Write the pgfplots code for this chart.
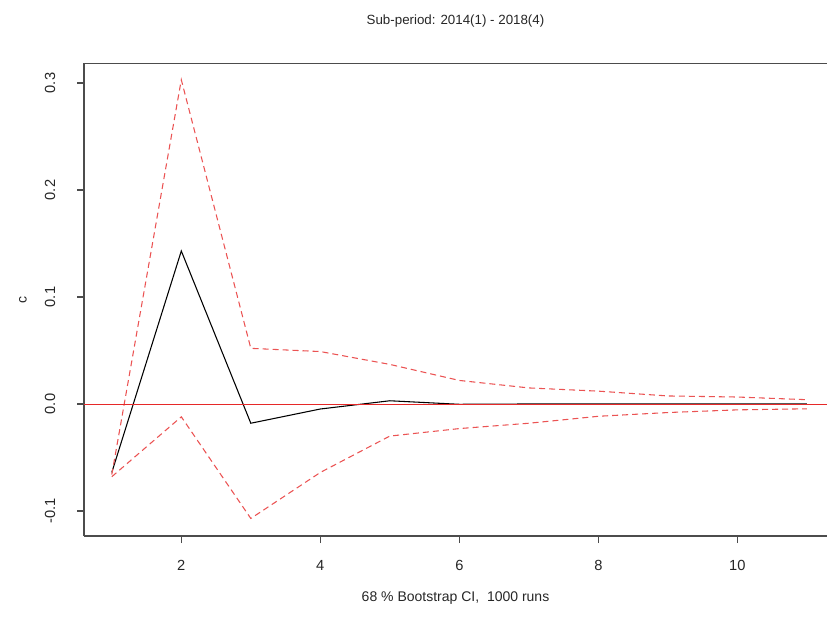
\documentclass[border=0pt]{standalone}
\usepackage{pgfplots}
\pgfplotsset{compat=1.18}
\usepackage{fontspec}
\setmainfont{Liberation Sans}
\definecolor{rred}{RGB}{230,40,40}

\begin{document}
\begin{tikzpicture}
% page: 827x636 px at 0.75pt per px; the right edge of the R box lies off the page
\useasboundingbox (0,0) rectangle (620.25pt,477pt);
\begin{axis}[
  at={(63pt,75pt)}, anchor=south west,
  scale only axis, width=557.25pt, height=354.75pt,
  xmin=0.6, xmax=11.29, ymin=-0.1234, ymax=0.3187,
  axis lines*=left,
  xtick={2,4,6,8,10}, ytick={-0.1,0,0.1,0.2,0.3},
  tick align=outside,
  major tick length=5.25pt,
  axis line style={black!70, line width=0.8pt},
  every tick/.style={black!70, line width=0.8pt},
  /pgf/number format/assume math mode=true,
  ticklabel style={font=\fontsize{11pt}{13pt}\selectfont, text=black!85},
  xticklabel style={anchor=base},
  xticklabel shift=20.25pt,
  yticklabel style={rotate=90, anchor=base,
    /pgf/number format/.cd, fixed, fixed zerofill, precision=1},
  yticklabel shift=16.5pt,
  title={Sub-period: 2014(1) - 2018(4)},
  title style={at={(0.5,1.0655)}, anchor=base,
    font=\fontsize{10pt}{12pt}\selectfont, text=black!85},
  xlabel={68 \% Bootstrap CI,\ \ 1000 runs},
  xlabel style={at={(0.5,-0.1395)}, anchor=base,
    font=\fontsize{10.5pt}{12.6pt}\selectfont, text=black!85},
  ylabel={c},
  ylabel style={at={(-0.0772,0.5)}, anchor=base,
    font=\fontsize{10.5pt}{12.6pt}\selectfont, text=black!85},
  clip=true,
]
  % response
  \addplot[color=black, line width=0.8pt]
    coordinates{(1,-0.064) (2,0.143) (3,-0.018) (4,-0.0047) (5,0.003) (6,-0.0003)
                (7,0) (8,0) (9,0) (10,0) (11,0)};
  % upper bound
  \addplot[color=rred!80, line width=0.8pt, dash pattern=on 4.5pt off 3pt]
    coordinates{(1,-0.066) (2,0.303) (3,0.052) (4,0.049) (5,0.037) (6,0.022)
                (7,0.015) (8,0.012) (9,0.0075) (10,0.0065) (11,0.004)};
  % lower bound
  \addplot[color=rred!80, line width=0.8pt, dash pattern=on 4.5pt off 3pt]
    coordinates{(1,-0.068) (2,-0.012) (3,-0.107) (4,-0.064) (5,-0.030) (6,-0.023)
                (7,-0.018) (8,-0.0115) (9,-0.008) (10,-0.0055) (11,-0.0045)};
  % zero line, drawn last as in R
  \addplot[color=rred, line width=0.6pt] coordinates {(0.6,0) (11.29,0)};
  % top edge of the box
  \draw[black!70, line width=0.8pt] (rel axis cs:0,1) -- (rel axis cs:1,1);
\end{axis}
\end{tikzpicture}
\end{document}
